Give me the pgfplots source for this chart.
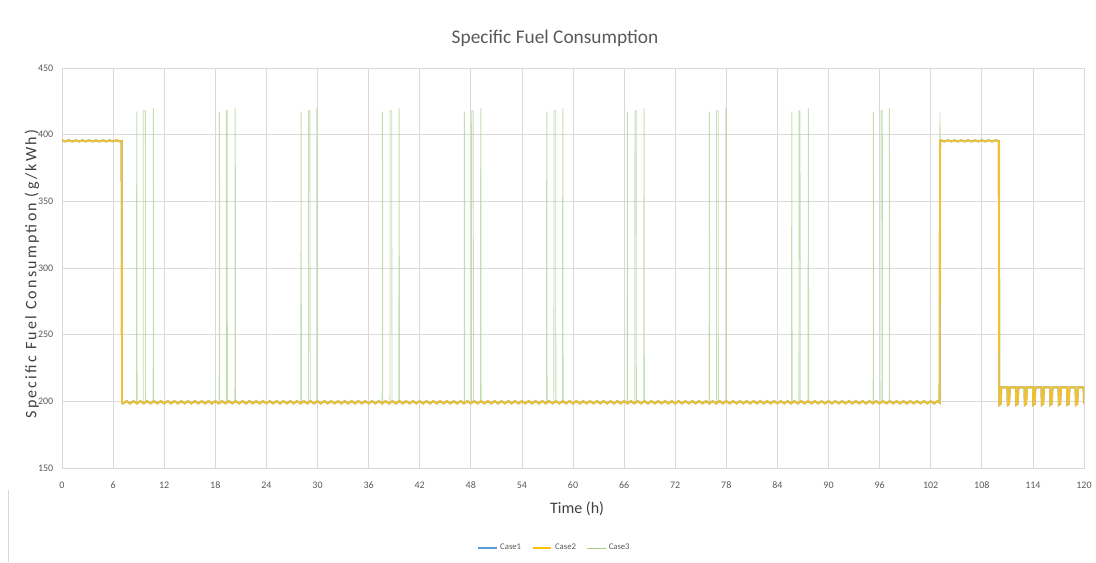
\documentclass[border=0pt]{standalone}
\usepackage{pgfplots}
\pgfplotsset{compat=1.18}
\usepackage{pgfplotstable}
\usepackage{fontspec}
\setmainfont{Carlito}
\definecolor{cOne}{HTML}{5B9BD5}
\definecolor{cTwo}{HTML}{F2C12E}
\definecolor{cTwoL}{HTML}{FFC000}
\definecolor{cThree}{HTML}{A9D18E}
\definecolor{gridgray}{HTML}{D9D9D9}
\definecolor{txtgray}{HTML}{595959}
\definecolor{lblgray}{HTML}{404040}

\pgfplotstableread[row sep=\\]{
x y \\
0.0 395.8 \\ 0.4 394.9 \\ 0.8 395.8 \\ 1.2 394.9 \\ 1.6 395.8 \\ 2.0 394.9 \\ 2.4 395.8 \\ 2.8 394.9 \\ 3.2 395.8 \\ 3.6 394.9 \\
4.0 395.8 \\ 4.4 394.9 \\ 4.8 395.8 \\ 5.2 394.9 \\ 5.6 395.8 \\ 6.0 394.9 \\ 6.4 395.8 \\ 6.8 394.9 \\ 7.0 395.2 \\ 7.05 198.6 \\
7.2 198.4 \\ 7.6 200.2 \\ 8.0 198.4 \\ 8.4 200.2 \\ 8.8 198.4 \\ 9.2 200.2 \\ 9.6 198.4 \\ 10.0 200.2 \\ 10.4 198.4 \\ 10.8 200.2 \\
11.2 198.4 \\ 11.6 200.2 \\ 12.0 198.4 \\ 12.4 200.2 \\ 12.8 198.4 \\ 13.2 200.2 \\ 13.6 198.4 \\ 14.0 200.2 \\ 14.4 198.4 \\ 14.8 200.2 \\
15.2 198.4 \\ 15.6 200.2 \\ 16.0 198.4 \\ 16.4 200.2 \\ 16.8 198.4 \\ 17.2 200.2 \\ 17.6 198.4 \\ 18.0 200.2 \\ 18.4 198.4 \\ 18.8 200.2 \\
19.2 198.4 \\ 19.6 200.2 \\ 20.0 198.4 \\ 20.4 200.2 \\ 20.8 198.4 \\ 21.2 200.2 \\ 21.6 198.4 \\ 22.0 200.2 \\ 22.4 198.4 \\ 22.8 200.2 \\
23.2 198.4 \\ 23.6 200.2 \\ 24.0 198.4 \\ 24.4 200.2 \\ 24.8 198.4 \\ 25.2 200.2 \\ 25.6 198.4 \\ 26.0 200.2 \\ 26.4 198.4 \\ 26.8 200.2 \\
27.2 198.4 \\ 27.6 200.2 \\ 28.0 198.4 \\ 28.4 200.2 \\ 28.8 198.4 \\ 29.2 200.2 \\ 29.6 198.4 \\ 30.0 200.2 \\ 30.4 198.4 \\ 30.8 200.2 \\
31.2 198.4 \\ 31.6 200.2 \\ 32.0 198.4 \\ 32.4 200.2 \\ 32.8 198.4 \\ 33.2 200.2 \\ 33.6 198.4 \\ 34.0 200.2 \\ 34.4 198.4 \\ 34.8 200.2 \\
35.2 198.4 \\ 35.6 200.2 \\ 36.0 198.4 \\ 36.4 200.2 \\ 36.8 198.4 \\ 37.2 200.2 \\ 37.6 198.4 \\ 38.0 200.2 \\ 38.4 198.4 \\ 38.8 200.2 \\
39.2 198.4 \\ 39.6 200.2 \\ 40.0 198.4 \\ 40.4 200.2 \\ 40.8 198.4 \\ 41.2 200.2 \\ 41.6 198.4 \\ 42.0 200.2 \\ 42.4 198.4 \\ 42.8 200.2 \\
43.2 198.4 \\ 43.6 200.2 \\ 44.0 198.4 \\ 44.4 200.2 \\ 44.8 198.4 \\ 45.2 200.2 \\ 45.6 198.4 \\ 46.0 200.2 \\ 46.4 198.4 \\ 46.8 200.2 \\
47.2 198.4 \\ 47.6 200.2 \\ 48.0 198.4 \\ 48.4 200.2 \\ 48.8 198.4 \\ 49.2 200.2 \\ 49.6 198.4 \\ 50.0 200.2 \\ 50.4 198.4 \\ 50.8 200.2 \\
51.2 198.4 \\ 51.6 200.2 \\ 52.0 198.4 \\ 52.4 200.2 \\ 52.8 198.4 \\ 53.2 200.2 \\ 53.6 198.4 \\ 54.0 200.2 \\ 54.4 198.4 \\ 54.8 200.2 \\
55.2 198.4 \\ 55.6 200.2 \\ 56.0 198.4 \\ 56.4 200.2 \\ 56.8 198.4 \\ 57.2 200.2 \\ 57.6 198.4 \\ 58.0 200.2 \\ 58.4 198.4 \\ 58.8 200.2 \\
59.2 198.4 \\ 59.6 200.2 \\ 60.0 198.4 \\ 60.4 200.2 \\ 60.8 198.4 \\ 61.2 200.2 \\ 61.6 198.4 \\ 62.0 200.2 \\ 62.4 198.4 \\ 62.8 200.2 \\
63.2 198.4 \\ 63.6 200.2 \\ 64.0 198.4 \\ 64.4 200.2 \\ 64.8 198.4 \\ 65.2 200.2 \\ 65.6 198.4 \\ 66.0 200.2 \\ 66.4 198.4 \\ 66.8 200.2 \\
67.2 198.4 \\ 67.6 200.2 \\ 68.0 198.4 \\ 68.4 200.2 \\ 68.8 198.4 \\ 69.2 200.2 \\ 69.6 198.4 \\ 70.0 200.2 \\ 70.4 198.4 \\ 70.8 200.2 \\
71.2 198.4 \\ 71.6 200.2 \\ 72.0 198.4 \\ 72.4 200.2 \\ 72.8 198.4 \\ 73.2 200.2 \\ 73.6 198.4 \\ 74.0 200.2 \\ 74.4 198.4 \\ 74.8 200.2 \\
75.2 198.4 \\ 75.6 200.2 \\ 76.0 198.4 \\ 76.4 200.2 \\ 76.8 198.4 \\ 77.2 200.2 \\ 77.6 198.4 \\ 78.0 200.2 \\ 78.4 198.4 \\ 78.8 200.2 \\
79.2 198.4 \\ 79.6 200.2 \\ 80.0 198.4 \\ 80.4 200.2 \\ 80.8 198.4 \\ 81.2 200.2 \\ 81.6 198.4 \\ 82.0 200.2 \\ 82.4 198.4 \\ 82.8 200.2 \\
83.2 198.4 \\ 83.6 200.2 \\ 84.0 198.4 \\ 84.4 200.2 \\ 84.8 198.4 \\ 85.2 200.2 \\ 85.6 198.4 \\ 86.0 200.2 \\ 86.4 198.4 \\ 86.8 200.2 \\
87.2 198.4 \\ 87.6 200.2 \\ 88.0 198.4 \\ 88.4 200.2 \\ 88.8 198.4 \\ 89.2 200.2 \\ 89.6 198.4 \\ 90.0 200.2 \\ 90.4 198.4 \\ 90.8 200.2 \\
91.2 198.4 \\ 91.6 200.2 \\ 92.0 198.4 \\ 92.4 200.2 \\ 92.8 198.4 \\ 93.2 200.2 \\ 93.6 198.4 \\ 94.0 200.2 \\ 94.4 198.4 \\ 94.8 200.2 \\
95.2 198.4 \\ 95.6 200.2 \\ 96.0 198.4 \\ 96.4 200.2 \\ 96.8 198.4 \\ 97.2 200.2 \\ 97.6 198.4 \\ 98.0 200.2 \\ 98.4 198.4 \\ 98.8 200.2 \\
99.2 198.4 \\ 99.6 200.2 \\ 100.0 198.4 \\ 100.4 200.2 \\ 100.8 198.4 \\ 101.2 200.2 \\ 101.6 198.4 \\ 102.0 200.2 \\ 102.4 198.4 \\ 102.8 200.2 \\
103.05 199.0 \\ 103.1 395.3 \\
103.2 395.8 \\ 103.6 394.9 \\ 104.0 395.8 \\ 104.4 394.9 \\ 104.8 395.8 \\ 105.2 394.9 \\ 105.6 395.8 \\ 106.0 394.9 \\ 106.4 395.8 \\ 106.8 394.9 \\
107.2 395.8 \\ 107.6 394.9 \\ 108.0 395.8 \\ 108.4 394.9 \\ 108.8 395.8 \\ 109.2 394.9 \\ 109.6 395.8 \\ 110.0 395.2 \\
110.05 197.3 \\ 110.2 198.0 \\ 110.3 210.5 \\ 111.0 210.5 \\
111.05 197.3 \\ 111.2 198.0 \\ 111.3 210.5 \\ 112.0 210.5 \\
112.05 197.3 \\ 112.2 198.0 \\ 112.3 210.5 \\ 113.0 210.5 \\
113.05 197.3 \\ 113.2 198.0 \\ 113.3 210.5 \\ 114.0 210.5 \\
114.05 197.3 \\ 114.2 198.0 \\ 114.3 210.5 \\ 115.0 210.5 \\
115.05 197.3 \\ 115.2 198.0 \\ 115.3 210.5 \\ 116.0 210.5 \\
116.05 197.3 \\ 116.2 198.0 \\ 116.3 210.5 \\ 117.0 210.5 \\
117.05 197.3 \\ 117.2 198.0 \\ 117.3 210.5 \\ 118.0 210.5 \\
118.05 197.3 \\ 118.2 198.0 \\ 118.3 210.5 \\ 119.0 210.5 \\
119.05 197.3 \\ 119.2 198.0 \\ 119.3 210.5 \\ 119.95 210.5 \\ 120.0 198.0 \\
}\casetwo

\pgfplotstableread[row sep=\\]{
x y \\
0.0 395.3 \\ 7.0 395.3 \\ 7.05 199.3 \\
8.75 199.3 \\ 8.77 417.0 \\ 8.80 417.0 \\ 8.82 199.3 \\
9.53 199.3 \\ 9.55 418.0 \\ 9.79 418.0 \\ 9.81 199.3 \\
10.70 199.3 \\ 10.72 419.5 \\ 10.75 419.5 \\ 10.77 199.3 \\
18.45 199.3 \\ 18.47 417.0 \\ 18.50 417.0 \\ 18.52 199.3 \\
19.28 199.3 \\ 19.30 418.0 \\ 19.40 418.0 \\ 19.42 199.3 \\
20.30 199.3 \\ 20.32 419.5 \\ 20.35 419.5 \\ 20.37 199.3 \\
28.04 199.3 \\ 28.06 417.0 \\ 28.09 417.0 \\ 28.11 199.3 \\
28.94 199.3 \\ 28.96 418.0 \\ 29.12 418.0 \\ 29.14 199.3 \\
29.90 199.3 \\ 29.92 419.5 \\ 29.95 419.5 \\ 29.97 199.3 \\
37.59 199.3 \\ 37.61 417.0 \\ 37.64 417.0 \\ 37.66 199.3 \\
38.50 199.3 \\ 38.52 418.0 \\ 38.72 418.0 \\ 38.74 199.3 \\
39.55 199.3 \\ 39.57 419.5 \\ 39.60 419.5 \\ 39.62 199.3 \\
47.22 199.3 \\ 47.24 417.0 \\ 47.27 417.0 \\ 47.29 199.3 \\
48.08 199.3 \\ 48.10 418.0 \\ 48.29 418.0 \\ 48.31 199.3 \\
49.14 199.3 \\ 49.16 419.5 \\ 49.19 419.5 \\ 49.21 199.3 \\
56.89 199.3 \\ 56.91 417.0 \\ 56.94 417.0 \\ 56.96 199.3 \\
57.75 199.3 \\ 57.77 418.0 \\ 57.97 418.0 \\ 57.99 199.3 \\
58.77 199.3 \\ 58.79 419.5 \\ 58.82 419.5 \\ 58.84 199.3 \\
66.35 199.3 \\ 66.37 417.0 \\ 66.40 417.0 \\ 66.42 199.3 \\
67.25 199.3 \\ 67.27 418.0 \\ 67.42 418.0 \\ 67.44 199.3 \\
68.31 199.3 \\ 68.33 419.5 \\ 68.36 419.5 \\ 68.38 199.3 \\
75.98 199.3 \\ 76.00 417.0 \\ 76.03 417.0 \\ 76.05 199.3 \\
76.84 199.3 \\ 76.86 418.0 \\ 77.05 418.0 \\ 77.07 199.3 \\
77.93 199.3 \\ 77.95 419.5 \\ 77.98 419.5 \\ 78.00 199.3 \\
85.66 199.3 \\ 85.68 417.0 \\ 85.71 417.0 \\ 85.73 199.3 \\
86.52 199.3 \\ 86.54 418.0 \\ 86.66 418.0 \\ 86.68 199.3 \\
87.60 199.3 \\ 87.62 419.5 \\ 87.65 419.5 \\ 87.67 199.3 \\
95.24 199.3 \\ 95.26 417.0 \\ 95.29 417.0 \\ 95.31 199.3 \\
96.15 199.3 \\ 96.17 418.0 \\ 96.32 418.0 \\ 96.34 199.3 \\
97.12 199.3 \\ 97.14 419.5 \\ 97.17 419.5 \\ 97.19 199.3 \\
103.05 199.3 \\ 103.08 416.5 \\ 103.12 395.5 \\ 110.0 395.5 \\
110.05 198.0 \\ 110.3 210.5 \\ 120.0 210.5 \\
}\casethree

\begin{document}
\begin{tikzpicture}[x=0.75pt,y=0.75pt]
\useasboundingbox (0,0) rectangle (1096,562);
\draw[gridgray, line width=0.6pt] (8,0) -- (8,72);
\node[font=\fontsize{14.5}{17}\selectfont, text=txtgray] at (555,524) {Specific Fuel Consumption};
\begin{axis}[
  at={(46.5pt,70.5pt)}, anchor=south west,
  scale only axis, width=766.5pt, height=300pt,
  xmin=0, xmax=120, ymin=150, ymax=450,
  xtick={0,6,...,120}, ytick={150,200,...,450},
  grid=major, major grid style={draw=gridgray, line width=0.6pt},
  axis line style={draw=gridgray, line width=0.6pt},
  major tick length=0pt,
  /pgf/number format/assume math mode=true,
  ticklabel style={font=\fontsize{7.5}{9}\selectfont, text=txtgray},
  xticklabel style={yshift=-7pt},
  yticklabel style={xshift=-3pt},
  xlabel={Time (h)},
  ylabel={Specific Fuel Consumption (g/kWh)},
  xlabel style={font=\fontsize{12}{14}\selectfont, text=lblgray, at={(rel axis cs:0.504,-0.1025)}, anchor=center},
  ylabel style={font=\fontsize{12}{14}\selectfont\addfontfeature{LetterSpace=14}, text=lblgray, at={(rel axis cs:-0.0294,0.485)}, anchor=center},
  legend columns=3,
  legend style={at={(rel axis cs:0.482,-0.2)}, anchor=center, draw=none, fill=none,
    font=\fontsize{6.5}{8}\selectfont, text=txtgray,
    /tikz/every even column/.append style={column sep=6pt}},
  legend cell align=left,
  legend image code/.code={\draw[#1] (0pt,0pt) -- (14pt,0pt);},
]
\addlegendimage{cOne, line width=1.5pt}
\addlegendentry{Case1}
\addlegendimage{cTwoL, line width=1.5pt}
\addlegendentry{Case2}
\addlegendimage{cThree, line width=0.6pt}
\addlegendentry{Case3}
\addplot[forget plot, cThree, line width=0.6pt, opacity=0.7] table[x=x, y=y] {\casethree};
\addplot[forget plot, cOne, line width=1.4pt] table[x=x, y=y] {\casetwo};
\addplot[forget plot, cTwo, line width=1.4pt] table[x=x, y=y] {\casetwo};
\end{axis}
\end{tikzpicture}
\end{document}
